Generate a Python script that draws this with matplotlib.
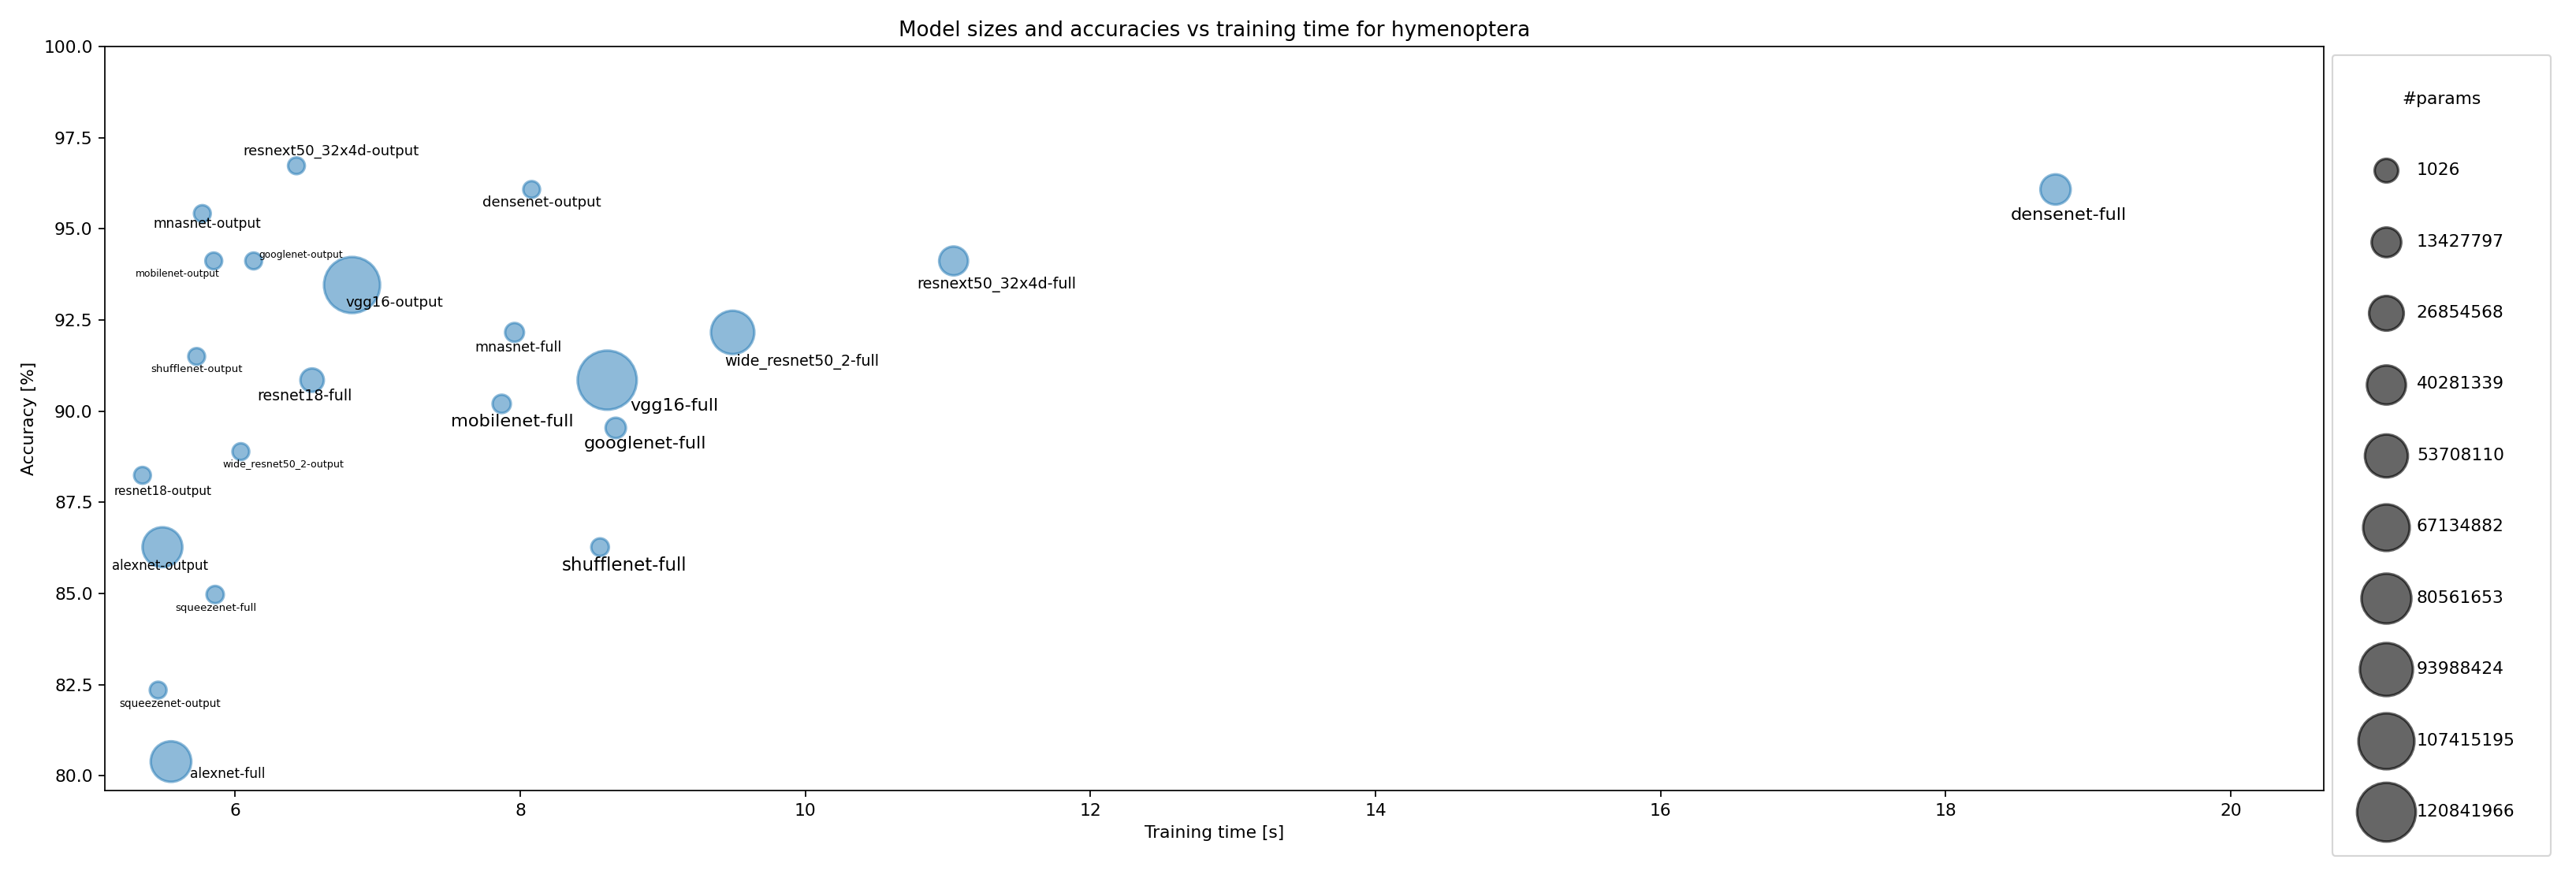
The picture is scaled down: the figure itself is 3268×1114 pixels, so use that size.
import numpy as np
import matplotlib
matplotlib.use("Agg")
import matplotlib.pyplot as plt

# model runs: name, training time [s], val accuracy [%], trainable params
labels = ["resnet18-output", "resnet18-full", "alexnet-output", "alexnet-full",
          "vgg16-output", "vgg16-full", "squeezenet-output", "squeezenet-full",
          "densenet-output", "densenet-full", "googlenet-output", "googlenet-full",
          "shufflenet-output", "shufflenet-full", "mobilenet-output", "mobilenet-full",
          "resnext50_32x4d-output", "resnext50_32x4d-full",
          "wide_resnet50_2-output", "wide_resnet50_2-full",
          "mnasnet-output", "mnasnet-full"]
train_time = [5.35, 6.54, 5.49, 5.55, 6.82, 8.61, 5.46, 5.86, 8.08, 18.77, 6.13, 8.67,
              5.73, 8.56, 5.85, 7.87, 6.43, 11.04, 6.04, 9.49, 5.77, 7.96]
accuracy = [88.24, 90.85, 86.27, 80.39, 93.46, 90.85, 82.35, 84.97, 96.08, 96.08, 94.12, 89.54,
            91.50, 86.27, 94.12, 90.20, 96.73, 94.12, 88.89, 92.16, 95.42, 92.16]
n_params = [1026, 11177538, 54542338, 57012034, 119554050, 134268738, 1026, 723522,
            4418, 26476418, 2050, 5601954, 2050, 1255906, 2562, 2226434,
            4098, 22984002, 4098, 66838338, 2562, 3104874]
legend_values = [1026, 13427797, 26854568, 40281339, 53708110,
                 67134882, 80561653, 93988424, 107415195, 120841966]

# label placement (offset in points) and font sizes
label_offsets = [(11.9, -9.4), (-4.4, -9.4), (-1.3, -10.7), (33.1, -7.2),
                 (24.8, -10.4), (38.9, -14.8), (6.7, -8.0), (0.2, -8.0),
                 (5.8, -7.8), (7.6, -15.1), (27.4, 3.4), (17.0, -9.2),
                 (0.2, -7.6), (14.3, -10.6), (-21.0, -7.6), (6.2, -10.4),
                 (20.2, 8.4), (25.1, -13.8), (24.6, -7.6), (40.2, -16.9),
                 (2.8, -6.1), (2.3, -8.7)]
label_sizes = [7.0, 8.7, 7.6, 7.8, 8.4, 10.2, 6.2, 6.1, 8.3, 10.3, 5.6, 10.3,
               6.1, 10.5, 5.6, 10.3, 8.3, 8.8, 5.8, 8.7, 7.8, 8.0]


def size_of(p):
    return 95 + np.asarray(p) * 8.1e-6


dpi = 157
fig = plt.figure(figsize=(3268 / dpi, 1114 / dpi), dpi=dpi)
ax = fig.add_subplot(111)
fig.subplots_adjust(left=0.0407, right=0.9021, bottom=0.0994, top=0.947)

ax.scatter(train_time, accuracy, s=size_of(n_params), color="C0", alpha=0.5, linewidths=1.5)

for name, x, y, off, fs in zip(labels, train_time, accuracy, label_offsets, label_sizes):
    ax.annotate(name, (x, y), xytext=off, textcoords="offset points",
                ha="center", va="center", fontsize=fs)

ax.set_xlim(5.086, 20.652)
ax.set_ylim(79.59, 100)
ax.set_title("Model sizes and accuracies vs training time for hymenoptera")
ax.set_xlabel("Training time [s]")
ax.set_ylabel("Accuracy [%]")

# size legend
handles = [ax.scatter([], [], s=size_of(v) + 93, color="k", alpha=0.6, linewidths=1.5)
           for v in legend_values]
ax.legend(handles, [str(v) for v in legend_values], title="#params",
          loc="upper left", bbox_to_anchor=(1, 1), labelspacing=3.23,
          borderpad=2.1, handlelength=2.0, fontsize=10, title_fontsize=10)

fig.savefig("out.png", dpi=dpi)
